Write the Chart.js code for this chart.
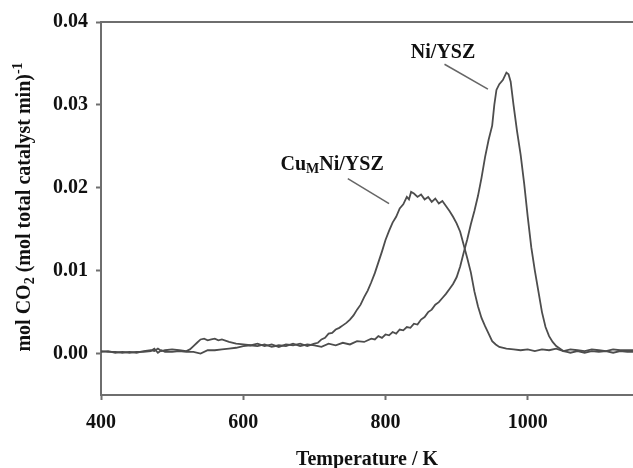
<!DOCTYPE html>
<html lang="en">
<head>
    <meta charset="UTF-8">
    <title>CO2 evolution vs temperature</title>
    <style>
        body {
            margin: 0;
            background-color: #fff;
        }
        canvas {
            display: block;
        }
    </style>
    <script src="https://cdn.jsdelivr.net/npm/chart.js"></script>
</head>
<body>

<canvas id="tpoChart" width="633" height="468"></canvas>

<script>
// Ni/YSZ curve (temperature in K, rate in mol CO2 per mol catalyst per min)
const niTemp = [400, 410, 420, 430, 440, 450, 460, 470, 475, 480, 485, 490, 500, 510, 520, 530, 540, 550, 560, 570,
    580, 590, 600, 610, 620, 630, 640, 650, 660, 670, 680, 690, 700, 710, 720, 730, 740, 750, 760, 770,
    780, 785, 790, 795, 800, 805, 810, 815, 820, 825, 830, 835, 840, 845, 850, 855, 860, 865, 870, 875,
    880, 885, 890, 895, 900, 905, 910, 915, 920, 925, 930, 935,
    940, 945, 950, 953, 956, 960, 965, 970, 973, 976, 980, 985, 990, 995, 1000, 1005, 1010, 1015, 1020, 1025,
    1030, 1035, 1040, 1045, 1050, 1055, 1060, 1070, 1080, 1090, 1100, 1110, 1120, 1130, 1140, 1148];
const niRate = [0.0002, 0.0003, 0.0001, 0.0002, 0.0001, 0.0002, 0.0002, 0.0003, 0.0006, 0.0001, 0.0004, 0.0002, 0.0002, 0.0003, 0.0002, 0.0002, 0.0000, 0.0004, 0.0004, 0.0005,
    0.0006, 0.0007, 0.0009, 0.0010, 0.0009, 0.0011, 0.0008, 0.0010, 0.0009, 0.0012, 0.0009, 0.0011, 0.0010, 0.0008, 0.0012, 0.0010, 0.0013, 0.0011, 0.0015, 0.0014,
    0.0018, 0.0017, 0.0021, 0.0019, 0.0023, 0.0022, 0.0026, 0.0024, 0.0029, 0.0028, 0.0032, 0.0031, 0.0036, 0.0035, 0.0041, 0.0044, 0.0050, 0.0053, 0.0059, 0.0062,
    0.0067, 0.0072, 0.0078, 0.0084, 0.0092, 0.0105, 0.0122, 0.0138, 0.0156, 0.0172, 0.0190, 0.0212,
    0.0237, 0.0258, 0.0275, 0.0300, 0.0318, 0.0325, 0.0330, 0.0339, 0.0337, 0.0328, 0.0300, 0.0268, 0.0240, 0.0205, 0.0165, 0.0128, 0.0100, 0.0075, 0.0050, 0.0032,
    0.0021, 0.0014, 0.0009, 0.0006, 0.0003, 0.0002, 0.0001, 0.0003, 0.0001, 0.0003, 0.0002, 0.0003, 0.0001, 0.0003, 0.0002, 0.0002];

// CuMNi/YSZ curve
const cuTemp = [400, 410, 420, 430, 440, 450, 460, 470, 475, 480, 485, 490, 500, 510, 520, 525, 530, 535, 540, 545,
    550, 555, 560, 565, 570, 580, 590, 600, 610, 620, 630, 640, 650, 660, 670, 680, 690, 700, 705, 710,
    715, 720, 725, 730, 735, 740, 745, 750, 755, 760, 765, 770, 775, 780, 785, 790, 795, 800, 805, 810,
    815, 820, 825, 830, 833, 836, 840, 845, 850,
    855, 860, 865, 870, 875, 880, 885, 890, 895, 900, 905, 910, 915, 920, 925, 930, 935, 940, 945, 950,
    955, 960, 970, 980, 990, 1000, 1010, 1020, 1030, 1040, 1050, 1060, 1070, 1080, 1090, 1100, 1110, 1120, 1130, 1140, 1148];
const cuRate = [0.0003, 0.0002, 0.0002, 0.0001, 0.0002, 0.0001, 0.0003, 0.0004, 0.0003, 0.0006, 0.0003, 0.0004, 0.0005, 0.0004, 0.0003, 0.0005, 0.0009, 0.0013, 0.0017, 0.0018,
    0.0016, 0.0017, 0.0018, 0.0016, 0.0017, 0.0014, 0.0012, 0.0011, 0.0010, 0.0012, 0.0009, 0.0011, 0.0008, 0.0011, 0.0010, 0.0012, 0.0009, 0.0012, 0.0013, 0.0017,
    0.0019, 0.0024, 0.0025, 0.0029, 0.0031, 0.0034, 0.0037, 0.0041, 0.0046, 0.0053, 0.0059, 0.0068, 0.0076, 0.0086, 0.0097, 0.0110, 0.0123, 0.0137, 0.0148, 0.0158,
    0.0165, 0.0175, 0.0180, 0.0189, 0.0186, 0.0195, 0.0193, 0.0189, 0.0192,
    0.0186, 0.0189, 0.0183, 0.0187, 0.0181, 0.0184, 0.0178, 0.0172, 0.0165, 0.0157, 0.0147, 0.0131, 0.0115, 0.0098, 0.0075, 0.0057, 0.0043, 0.0033, 0.0024, 0.0015,
    0.0011, 0.0008, 0.0006, 0.0005, 0.0004, 0.0005, 0.0003, 0.0005, 0.0004, 0.0006, 0.0003, 0.0005, 0.0004, 0.0003, 0.0005, 0.0004, 0.0003, 0.0005, 0.0004, 0.0004, 0.0004];

// Axis ticks
const xTicks = [400, 600, 800, 1000];
const yTicks = [0.00, 0.01, 0.02, 0.03, 0.04];

const FONT = "'Liberation Serif', 'Times New Roman', serif";
const LINE_COLOR = '#4d4d4d';
const AXIS_COLOR = '#6e6e6e';

function toPoints(xs, ys) {
    return xs.map((x, i) => ({ x: x, y: ys[i] }));
}

// Curve labels with leader lines, in data coordinates
const curveLabels = [
    { text: 'Ni/YSZ', sub: null, rest: null, x: 881, y: 0.0363, from: [883, 0.0349], to: [944, 0.0319] },
    { text: 'Cu', sub: 'M', rest: 'Ni/YSZ', x: 725, y: 0.0228, from: [747, 0.0211], to: [805, 0.0181] }
];

// Draws the frame top, axis titles and curve labels
const decorPlugin = {
    id: 'decor',
    afterDraw(chart) {
        const ctx = chart.ctx;
        const area = chart.chartArea;
        const xs = chart.scales.x;
        const ys = chart.scales.y;
        ctx.save();

        // top frame line
        ctx.strokeStyle = AXIS_COLOR;
        ctx.lineWidth = 2;
        ctx.beginPath();
        ctx.moveTo(area.left, area.top);
        ctx.lineTo(area.right, area.top);
        ctx.stroke();

        ctx.fillStyle = '#111';
        ctx.textBaseline = 'middle';

        // x title
        ctx.font = 'bold 20px ' + FONT;
        ctx.textAlign = 'center';
        ctx.fillText('Temperature / K', 367, 460);

        // y title with subscript and superscript
        const big = 'bold 20px ' + FONT;
        const small = 'bold 14px ' + FONT;
        const parts = [
            { t: 'mol CO', f: big, dy: 0 },
            { t: '2', f: small, dy: 5 },
            { t: ' (mol total catalyst min)', f: big, dy: 0 },
            { t: '-1', f: small, dy: -7 }
        ];
        let total = 0;
        parts.forEach(p => { ctx.font = p.f; p.w = ctx.measureText(p.t).width; total += p.w; });
        ctx.translate(25, 207);
        ctx.rotate(-Math.PI / 2);
        ctx.textAlign = 'left';
        let cx = -total / 2;
        parts.forEach(p => {
            ctx.font = p.f;
            ctx.fillText(p.t, cx, p.dy);
            cx += p.w;
        });
        ctx.setTransform(1, 0, 0, 1, 0, 0);

        // curve labels
        curveLabels.forEach(lab => {
            ctx.strokeStyle = '#666';
            ctx.lineWidth = 1.5;
            ctx.beginPath();
            ctx.moveTo(xs.getPixelForValue(lab.from[0]), ys.getPixelForValue(lab.from[1]));
            ctx.lineTo(xs.getPixelForValue(lab.to[0]), ys.getPixelForValue(lab.to[1]));
            ctx.stroke();

            const px = xs.getPixelForValue(lab.x);
            const py = ys.getPixelForValue(lab.y);
            const segs = [{ t: lab.text, f: big, dy: 0 }];
            if (lab.sub) segs.push({ t: lab.sub, f: small, dy: 5 });
            if (lab.rest) segs.push({ t: lab.rest, f: big, dy: 0 });
            let w = 0;
            segs.forEach(s => { ctx.font = s.f; s.w = ctx.measureText(s.t).width; w += s.w; });
            let sx = px - w / 2;
            ctx.textAlign = 'left';
            segs.forEach(s => {
                ctx.font = s.f;
                ctx.fillText(s.t, sx, py + s.dy);
                sx += s.w;
            });
        });

        ctx.restore();
    }
};

const ctx = document.getElementById('tpoChart').getContext('2d');
const tpoChart = new Chart(ctx, {
    type: 'line',
    data: {
        datasets: [
            {
                label: 'Ni/YSZ',
                data: toPoints(niTemp, niRate),
                borderColor: LINE_COLOR,
                borderWidth: 1.8,
                pointRadius: 0,
                tension: 0,
                fill: false
            },
            {
                label: 'CuMNi/YSZ',
                data: toPoints(cuTemp, cuRate),
                borderColor: LINE_COLOR,
                borderWidth: 1.8,
                pointRadius: 0,
                tension: 0,
                fill: false
            }
        ]
    },
    options: {
        responsive: false,
        animation: false,
        layout: { padding: { top: 22, right: 0, left: 0, bottom: 0 } },
        plugins: {
            legend: { display: false },
            tooltip: { enabled: false }
        },
        scales: {
            x: {
                type: 'linear',
                min: 400,
                max: 1148,
                afterBuildTicks: (scale) => { scale.ticks = xTicks.map(v => ({ value: v })); },
                afterFit: (scale) => { scale.height = 73; },
                ticks: {
                    color: '#111',
                    font: { family: FONT, size: 20, weight: 'bold' },
                    padding: 11,
                    maxRotation: 0,
                    callback: (v) => String(v)
                },
                grid: {
                    drawOnChartArea: false,
                    tickLength: 5,
                    tickColor: AXIS_COLOR,
                    tickWidth: 2
                },
                border: { display: true, color: AXIS_COLOR, width: 2 }
            },
            y: {
                min: -0.005,
                max: 0.04,
                afterBuildTicks: (scale) => { scale.ticks = yTicks.map(v => ({ value: v })); },
                afterFit: (scale) => { scale.width = 101; },
                ticks: {
                    color: '#111',
                    font: { family: FONT, size: 20, weight: 'bold' },
                    padding: 8,
                    callback: (v) => Number(v).toFixed(2)
                },
                grid: {
                    drawOnChartArea: false,
                    tickLength: 5,
                    tickColor: AXIS_COLOR,
                    tickWidth: 2
                },
                border: { display: true, color: AXIS_COLOR, width: 2 }
            }
        }
    },
    plugins: [decorPlugin]
});
</script>

</body>
</html>
